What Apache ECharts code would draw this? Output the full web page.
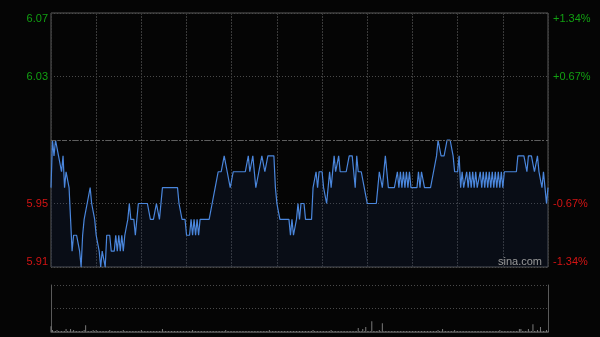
<!DOCTYPE html>
<html>
<head>
<meta charset="utf-8">
<script src="https://cdn.jsdelivr.net/npm/echarts@6/dist/echarts.min.js"></script>
<style>
html,body{margin:0;padding:0;background:#050505;}
#c{width:600px;height:337px;}
</style>
</head>
<body>
<div id="c"></div>
<script>
// Previous close and axis ticks
var prevClose = 5.99;
var priceTicks = [5.91, 5.95, 5.99, 6.03, 6.07];

// Minute prices (HK session 9:30-12:00, 13:00-16:00)
var prices = [
5.96,5.99,5.98,5.99,5.99,5.98,5.98,5.97,5.98,5.96,
5.97,5.97,5.96,5.94,5.92,5.93,5.93,5.93,5.93,5.92,
5.91,5.93,5.94,5.94,5.95,5.95,5.96,5.95,5.95,5.94,
5.93,5.93,5.92,5.91,5.92,5.92,5.91,5.93,5.93,5.93,
5.92,5.92,5.92,5.93,5.92,5.93,5.92,5.93,5.92,5.93,
5.93,5.94,5.95,5.94,5.94,5.94,5.93,5.94,5.95,5.95,
5.95,5.95,5.95,5.95,5.95,5.95,5.94,5.94,5.94,5.94,
5.95,5.95,5.94,5.94,5.96,5.96,5.96,5.96,5.96,5.96,
5.96,5.96,5.96,5.96,5.96,5.95,5.95,5.94,5.94,5.94,
5.93,5.93,5.93,5.94,5.93,5.94,5.93,5.94,5.93,5.94,
5.94,5.94,5.94,5.94,5.94,5.94,5.94,5.95,5.95,5.96,
5.96,5.97,5.97,5.97,5.97,5.98,5.98,5.97,5.97,5.96,
5.96,5.97,5.97,5.97,5.97,5.97,5.97,5.97,5.97,5.97,
5.97,5.98,5.97,5.97,5.98,5.97,5.96,5.96,5.97,5.97,
5.98,5.98,5.97,5.97,5.98,5.98,5.98,5.98,5.98,5.96,
5.95,5.95,5.94,5.94,5.94,5.94,5.94,5.94,5.94,5.93,
5.94,5.93,5.93,5.94,5.95,5.94,5.95,5.95,5.95,5.94,
5.94,5.94,5.94,5.94,5.96,5.96,5.97,5.96,5.97,5.97,
5.97,5.96,5.96,5.95,5.96,5.97,5.96,5.96,5.98,5.97,
5.97,5.98,5.97,5.97,5.97,5.97,5.97,5.97,5.98,5.98,
5.98,5.97,5.96,5.98,5.97,5.97,5.97,5.97,5.96,5.96,
5.95,5.95,5.95,5.95,5.95,5.95,5.95,5.96,5.97,5.97,
5.96,5.97,5.98,5.97,5.96,5.96,5.96,5.96,5.96,5.96,
5.97,5.96,5.97,5.96,5.97,5.96,5.97,5.96,5.97,5.96,
5.96,5.96,5.96,5.96,5.97,5.96,5.97,5.97,5.96,5.96,
5.96,5.96,5.96,5.96,5.97,5.97,5.98,5.99,5.99,5.98,
5.98,5.98,5.98,5.99,5.99,5.99,5.99,5.98,5.97,5.97,
5.97,5.98,5.96,5.97,5.96,5.96,5.97,5.96,5.97,5.96,
5.97,5.96,5.97,5.96,5.96,5.97,5.96,5.97,5.96,5.97,
5.96,5.97,5.96,5.97,5.96,5.97,5.96,5.97,5.96,5.97,
5.96,5.97,5.97,5.97,5.97,5.97,5.97,5.97,5.97,5.97,
5.98,5.98,5.98,5.98,5.98,5.98,5.97,5.98,5.98,5.98,
5.98,5.97,5.97,5.98,5.97,5.97,5.96,5.97,5.96,5.95,5.96
];

// Minute volumes (relative units)
var volumes = [
6,2,1,1,2,1,1,1,1,1,3,1,1,3,1,2,1,1,1,1,
1,1,2,7,1,1,1,1,2,1,2,1,1,1,1,1,1,1,1,2,
1,1,1,1,1,1,1,1,2,1,1,1,1,1,1,1,1,1,1,1,
2,1,1,1,1,1,1,1,1,1,1,1,1,1,3,1,1,1,1,1,
1,1,1,1,1,1,1,1,1,1,1,1,1,1,2,1,1,1,1,1,
1,1,1,1,1,1,1,1,1,1,1,1,1,1,1,1,2,1,1,1,
1,1,1,1,1,1,1,1,1,1,1,1,1,1,1,1,1,1,1,1,
1,1,1,1,1,2,1,1,1,1,1,1,1,1,1,1,1,1,1,1,
1,1,1,1,1,1,1,1,1,1,1,1,1,1,2,1,1,1,1,1,
1,1,1,1,1,1,2,1,1,1,1,1,1,1,1,1,1,1,1,1,
1,1,1,1,4,1,1,3,1,5,1,1,1,11,1,1,1,1,2,1,
9,1,1,1,1,1,1,1,1,1,1,1,1,1,1,1,1,1,1,1,
1,1,1,1,1,1,1,1,1,1,1,1,1,1,1,1,1,2,1,1,
3,1,1,1,1,1,1,1,2,1,1,1,1,1,1,1,1,1,1,1,
1,1,1,1,1,1,1,1,1,1,1,1,1,1,1,1,1,1,2,1,
1,1,1,1,1,1,1,1,1,1,1,3,3,1,1,1,1,3,1,1,
8,1,1,2,1,5,1,1,1,2,1
];

// Time categories
var times = [];
(function(){
  function fmt(h,m){return h+':'+(m<10?'0':'')+m;}
  for (var t = 9*60+30; t <= 12*60; t++) times.push(fmt(Math.floor(t/60), t%60));
  for (var t2 = 13*60+1; t2 <= 16*60; t2++) times.push(fmt(Math.floor(t2/60), t2%60));
})();

var GREEN = '#12a012', RED = '#d41414';
var chart = echarts.init(document.getElementById('c'), null, {renderer:'canvas'});

function pct(v){
  var p = (v - prevClose) / prevClose * 100;
  return (p > 0 ? '+' : '') + p.toFixed(2) + '%';
}
function lblColor(v){ return (v > prevClose + 1e-6) ? GREEN : RED; }

chart.setOption({
  backgroundColor: '#050505',
  animation: false,
  grid: [
    {left: 51, right: 52, top: 13, height: 254, show: true, borderColor: '#5a5a5a', borderWidth: 1, backgroundColor: 'transparent'},
    {left: 51, right: 52, top: 285, height: 47}
  ],
  xAxis: [
    {type: 'category', gridIndex: 0, data: times, boundaryGap: false,
     axisLine: {show: false}, axisTick: {show: false}, axisLabel: {show: false},
     splitLine: {show: true, interval: 29, lineStyle: {color: '#3a3a3a', type: [2, 1], width: 1}}},
    {type: 'category', gridIndex: 1, data: times, boundaryGap: false,
     axisLine: {show: true, lineStyle: {color: '#4a4a4a'}}, axisTick: {show: false}, axisLabel: {show: false},
     splitLine: {show: false}}
  ],
  yAxis: [
    {type: 'value', gridIndex: 0, min: priceTicks[0], max: priceTicks[priceTicks.length-1], interval: 0.04,
     axisLine: {show: false}, axisTick: {show: false},
     axisLabel: {show: true, margin: 3, fontSize: 11, fontFamily: 'Liberation Sans, Arial, sans-serif',
       verticalAlignMinLabel: 'bottom', verticalAlignMaxLabel: 'top',
       formatter: function(v){ return Math.abs(v - prevClose) < 1e-6 ? '' : v.toFixed(2); },
       color: function(v){ return lblColor(parseFloat(v)); }},
     splitLine: {show: true, lineStyle: {color: '#4a4a4a', type: [1, 2], width: 1}}},
    {type: 'value', gridIndex: 0, position: 'right', min: priceTicks[0], max: priceTicks[priceTicks.length-1], interval: 0.04,
     axisLine: {show: false}, axisTick: {show: false},
     axisLabel: {show: true, margin: 5, fontSize: 11, fontFamily: 'Liberation Sans, Arial, sans-serif',
       verticalAlignMinLabel: 'bottom', verticalAlignMaxLabel: 'top',
       formatter: function(v){ return Math.abs(v - prevClose) < 1e-6 ? '' : pct(v); },
       color: function(v){ return lblColor(parseFloat(v)); }},
     splitLine: {show: false}},
    {type: 'value', gridIndex: 1, min: 0, max: 48, interval: 24,
     axisLine: {show: true, lineStyle: {color: '#5a5a5a'}}, axisTick: {show: false}, axisLabel: {show: false},
     splitLine: {show: true, lineStyle: {color: '#4a4a4a', type: [1, 2]}}},
    {type: 'value', gridIndex: 1, position: 'right', min: 0, max: 48, interval: 24,
     axisLine: {show: true, lineStyle: {color: '#5a5a5a'}}, axisTick: {show: false}, axisLabel: {show: false},
     splitLine: {show: false}}
  ],
  graphic: [
    {type: 'text', left: 498, top: 256, style: {text: 'sina.com', fill: '#9a9a9a', fontSize: 11, fontFamily: 'Liberation Sans, Arial, sans-serif'}, z: 10}
  ],
  series: [
    {type: 'line', xAxisIndex: 0, yAxisIndex: 0, data: prices, symbol: 'none', smooth: false,
     lineStyle: {color: '#4a86dc', width: 1.2},
     areaStyle: {origin: 'start', color: 'rgba(28,48,90,0.28)'},
     markLine: {silent: true, symbol: 'none', label: {show: false},
       lineStyle: {color: '#5e5e5e', type: [5, 2, 2, 2], width: 1},
       data: [{yAxis: prevClose}]}},
    {type: 'bar', xAxisIndex: 1, yAxisIndex: 2, data: volumes, barWidth: 1,
     itemStyle: {color: '#7a7a7a'}}
  ]
});
</script>
</body>
</html>
